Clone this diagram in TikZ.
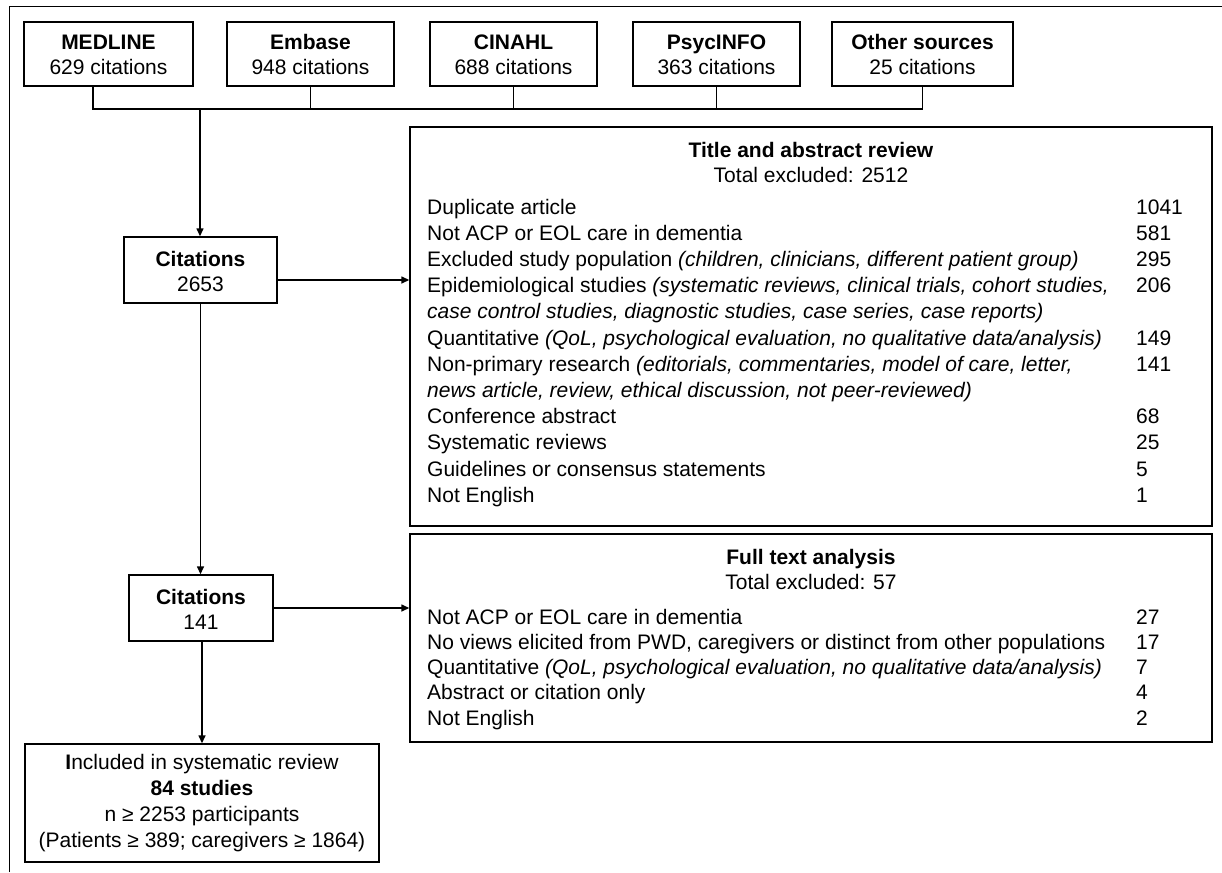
\documentclass[tikz,border=0pt]{standalone}
\usepackage{fontspec}
\setmainfont{Liberation Sans}
\usepackage{tikz}
\usetikzlibrary{arrows.meta,positioning}

\newcommand{\rowfont}{\fontsize{21}{25}\selectfont}

\begin{document}
\begin{tikzpicture}[x = 1pt, y = -1pt,
  box/.style = {draw, line width = 1.4pt, inner sep = 0pt, align = center, font = \rowfont},
  pair/.style = {box, text height = 46pt, text depth = 4pt},
  txt/.style = {inner sep = 0pt, font = \rowfont},
  link/.style = {line width = 1.4pt},
  arr/.style = {line width = 1.4pt, -{Triangle[length=8pt, width=7pt]}}]
\useasboundingbox (0,0) rectangle (1222,872);
\draw[line width = 1pt] (9,872) -- (9,7) -- (1222,7);

% sources
\node[pair, minimum width = 169pt, minimum height = 64pt] (medline) at (108.5,54) {\textbf{MEDLINE}\\629 citations};
\node[pair, minimum width = 167pt, minimum height = 64pt] (embase) at (310.5,54) {\textbf{Embase}\\948 citations};
\node[pair, minimum width = 167pt, minimum height = 64pt] (cinahl) at (513.5,54) {\textbf{CINAHL}\\688 citations};
\node[pair, minimum width = 167pt, minimum height = 64pt] (psyc) at (716.5,54) {\textbf{PsycINFO}\\363 citations};
\node[pair, minimum width = 181pt, minimum height = 64pt] (other) at (922.5,54) {\textbf{Other sources}\\25 citations};

% screening
\node[pair, minimum width = 153pt, minimum height = 66pt] (cit1) at (200.5,270) {\textbf{Citations}\\2653};
\node[pair, minimum width = 144pt, minimum height = 66pt] (cit2) at (201,608) {\textbf{Citations}\\141};
\node[box, minimum width = 354pt, minimum height = 118pt, font = \fontsize{21}{26}\selectfont] (incl) at (202,803) {\textbf{I}ncluded in systematic review\\\textbf{84 studies}\\n ≥ 2253 participants\\(Patients ≥ 389; caregivers ≥ 1864)};

% title and abstract review
\node[box, minimum width = 802pt, minimum height = 399pt] (tar) at (811,326.5) {};
\node[txt, anchor = base] (tarhead) at (811,157) {\textbf{Title and abstract review}};
\node[txt, anchor = base] (tartotal) at (811,182) {Total excluded: 2512};
\node[txt, anchor = base west, font = \fontsize{21}{26.2}\selectfont] (tarlist) at (427,214) {\begin{tabular}[t]{@{}p{709pt}@{}l@{}}
Duplicate article & 1041\\
Not ACP or EOL care in dementia & 581\\
Excluded study population \textit{(children, clinicians, different patient group)} & 295\\
Epidemiological studies \textit{(systematic reviews, clinical trials, cohort studies,} & 206\\
\textit{case control studies, diagnostic studies, case series, case reports)} & \\
Quantitative \textit{(QoL, psychological evaluation, no qualitative data/analysis)} & 149\\
Non-primary research \textit{(editorials, commentaries, model of care, letter,} & 141\\
\textit{news article, review, ethical discussion, not peer-reviewed)} & \\
Conference abstract & 68\\
Systematic reviews & 25\\
Guidelines or consensus statements & 5\\
Not English & 1
\end{tabular}};

% full text analysis
\node[box, minimum width = 802pt, minimum height = 208pt] (fta) at (811,638) {};
\node[txt, anchor = base] (ftahead) at (811,564) {\textbf{Full text analysis}};
\node[txt, anchor = base] (ftatotal) at (811,589) {Total excluded: 57};
\node[txt, anchor = base west, font = \fontsize{21}{25.25}\selectfont] (ftalist) at (427,624) {\begin{tabular}[t]{@{}p{709pt}@{}l@{}}
Not ACP or EOL care in dementia & 27\\
No views elicited from PWD, caregivers or distinct from other populations & 17\\
Quantitative \textit{(QoL, psychological evaluation, no qualitative data/analysis)} & 7\\
Abstract or citation only & 4\\
Not English & 2
\end{tabular}};

% connectors
\coordinate (bus) at (200,109);
\draw[link] ([xshift = -15.5pt]medline.south) |- (other.south |- bus) -- (other.south);
\foreach \src in {embase, cinahl, psyc}
  \draw[link] (\src.south) -- (\src.south |- bus);
\draw[arr] (bus) -- (bus |- cit1.north);
\draw[arr] ([yshift = -10pt]cit1.east) -- ([yshift = -10pt]cit1.east -| tar.west);
\draw[arr] (cit1.south) -- (cit1.south |- cit2.north);
\draw[arr] (cit2.east) -- (cit2.east -| fta.west);
\draw[arr] (cit2.south -| incl.north) -- (incl.north);
\end{tikzpicture}
\end{document}
